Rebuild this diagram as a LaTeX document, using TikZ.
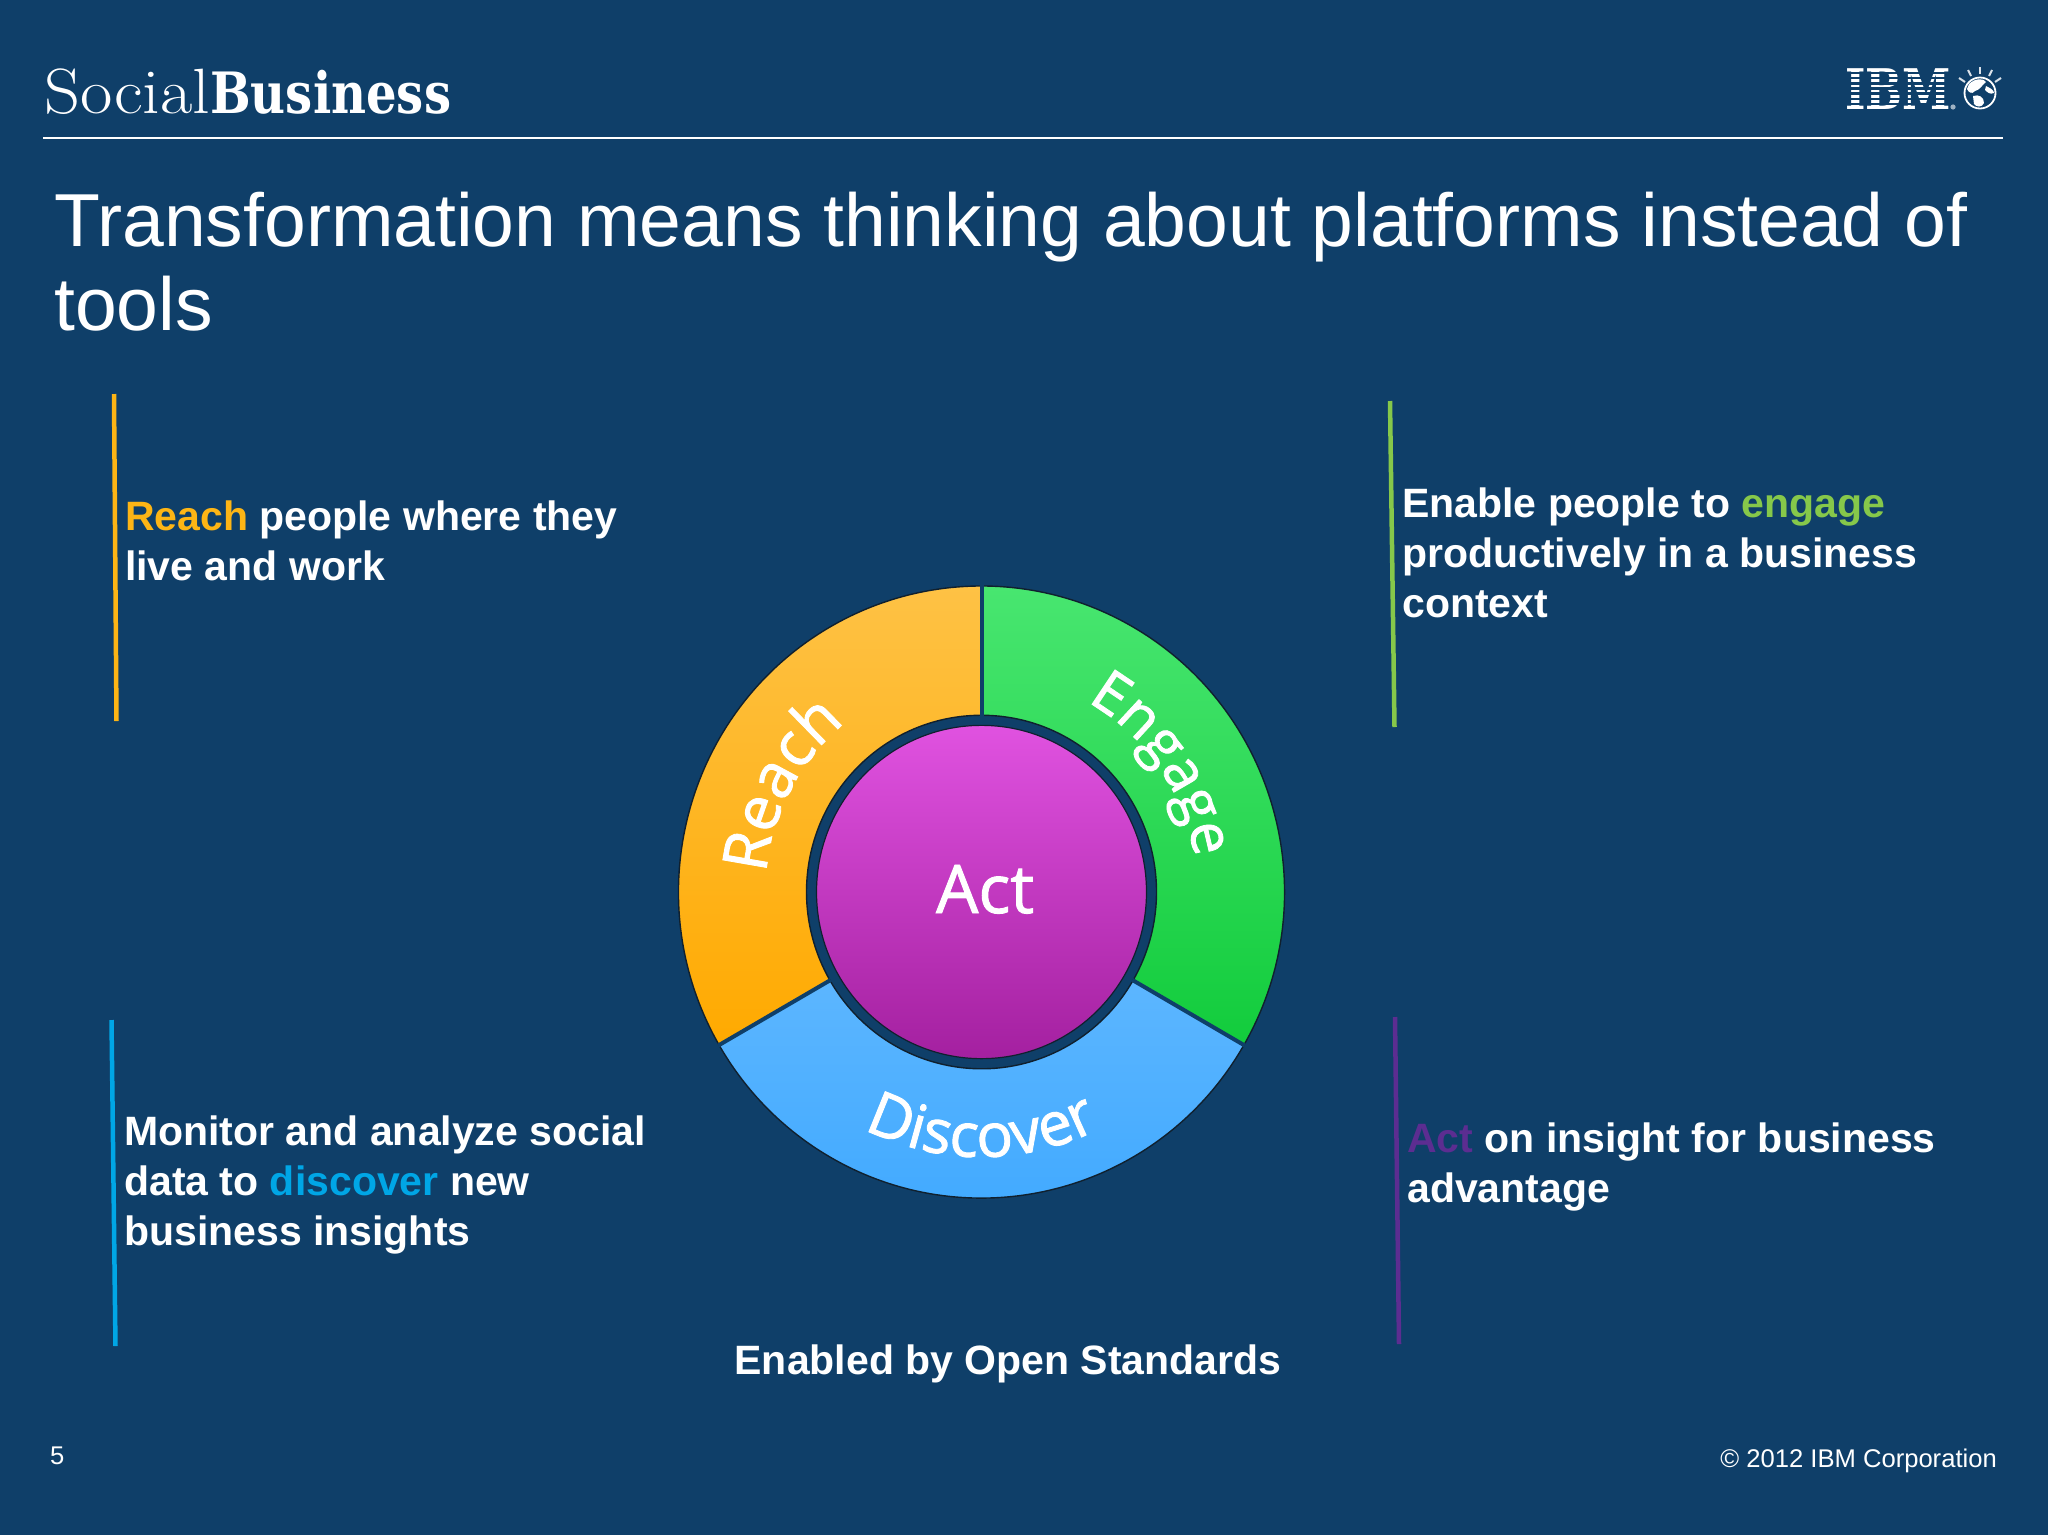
\documentclass[tikz,border=0pt]{standalone}
\usepackage{fontspec}
\usetikzlibrary{decorations.text}
\newfontfamily\bodyfont{Liberation Sans}
\newfontfamily\ringfont[FakeBold=1.4]{Open Sans}
\newfontfamily\slabfont{DejaVu Serif}
\definecolor{bgblue}{HTML}{0F3F69}
\definecolor{reachc}{HTML}{FDB515}
\definecolor{engagec}{HTML}{86C84A}
\definecolor{discoverc}{HTML}{00A6E6}
\definecolor{actc}{HTML}{5C2D91}
\definecolor{ringedge}{HTML}{10202E}
\tikzset{
  bodytext/.style={anchor=base west,align=left,inner sep=0pt,text=white,font=\bodyfont\bfseries\fontsize{41}{49.6}\selectfont},
  smalltext/.style={inner sep=0pt,text=white,font=\bodyfont\fontsize{25.6}{30}\selectfont},
  barline/.style={line width=4.5pt},
  sector/.style={draw=ringedge,line width=1.4pt},
  gapline/.style={draw=bgblue,line width=4pt},
}
\newcommand{\ringword}[6]{%
  \path[postaction={decorate,decoration={text along path,text align=center,text={|\ringfont\fontsize{#1}{#1}\selectfont\color{white}|#2}}}]
    ([shift={(#3:#5pt and #6pt)}]ctr) arc[start angle=#3,end angle=#4,x radius=#5pt,y radius=#6pt];}
\begin{document}
\begin{tikzpicture}[x=1pt,y=1pt]
\useasboundingbox (0,-1535) rectangle (2048,0);
\fill[bgblue] (0,-1535) rectangle (2048,0);
% header
\node[anchor=base west,inner sep=0pt,text=white,xscale=1.1,transform shape,font=\rmfamily\fontsize{64}{64}\selectfont] (social) at (44,-113) {Social};
\node[anchor=base west,inner sep=0pt,text=white,xscale=.845,transform shape,font=\slabfont\bfseries\fontsize{57}{57}\selectfont] (business) at (210,-113) {Business};
\draw[white,line width=1.3pt] (43,-138) -- (2003,-138);
% IBM logo
\node[anchor=base west,inner sep=0pt,text=white,xscale=.78,transform shape,font=\slabfont\bfseries\fontsize{56}{56}\selectfont] (ibm) at (1845,-109) {IBM};
\foreach \k in {1,...,7} \fill[bgblue] (1842,{-68-5.13*\k-1.2}) rectangle (1950,{-68-5.13*\k+1.2});
\fill[white!60!bgblue] (1953,-107) circle (2.6);
\draw[white,line width=1.8pt] (1980,-93) circle (15.5);
\fill[white] (1969,-84) .. controls (1975,-78) and (1984,-78) .. (1986,-82) .. controls (1982,-85) and (1980,-90) .. (1975,-91) .. controls (1972,-95) and (1968,-92) .. (1967,-89) -- cycle;
\fill[white] (1973,-96) .. controls (1979,-94) and (1984,-97) .. (1984,-103) .. controls (1982,-108) and (1976,-107) .. (1974,-104) -- cycle;
\fill[white] (1986,-86) .. controls (1990,-88) and (1994,-90) .. (1994,-93) .. controls (1990,-95) and (1987,-92) .. (1985,-90) -- cycle;
\foreach \a/\xa/\ya/\xb/\yb in {0/1959/-78/1965/-82,1/1968/-70/1971/-76,2/1980/-67/1980/-74,3/1992/-70/1989/-76,4/2001/-78/1995/-82}
  \draw[white!85!bgblue,line width=2pt] (\xa,\ya) -- (\xb,\yb);
% title
\node[anchor=base west,align=left,inner sep=0pt,text=white,font=\bodyfont\fontsize{75.1}{84}\selectfont] (title) at (54,-330) {Transformation means thinking about platforms instead of\\tools};
% bars
\draw[barline,draw=reachc] (114,-394) -- (116.5,-721);
\draw[barline,draw=engagec] (1390,-401) -- (1394.5,-727);
\draw[barline,draw=discoverc] (111.5,-1020) -- (115.5,-1346);
\draw[barline,draw=actc] (1395,-1017) -- (1399,-1344);
% body text
\node[bodytext] (reachtxt) at (125,-580) {\textcolor{reachc}{Reach} people where they\\live and work};
\node[bodytext] (engagetxt) at (1402,-617) {Enable people to \textcolor{engagec}{engage}\\productively in a business\\context};
\node[bodytext] (discovertxt) at (124,-1245) {Monitor and analyze social\\data to \textcolor{discoverc}{discover} new\\business insights};
\node[bodytext] (acttxt) at (1407,-1202) {\textcolor{actc}{Act} on insight for business\\advantage};
\node[bodytext,anchor=base] (open) at (1008,-1374) {Enabled by Open Standards};
\node[smalltext,anchor=base west] (pageno) at (50,-1464) {5};
\node[smalltext,anchor=base east] (copy) at (1997,-1467) {© 2012 IBM Corporation};
% ring
\coordinate (ctr) at (981.5,-892);
\begin{scope}[shift={(981.5,-892)},yscale=1.01]
  \shade[sector,top color=reachc!78!white!95!orange,bottom color=orange!60!yellow!95!red]
    (90:175) arc[start angle=90,end angle=210,radius=175] -- (210:303) arc[start angle=210,end angle=90,radius=303] -- cycle;
  \shade[sector,top color={rgb,255:red,72;green,230;blue,112},bottom color={rgb,255:red,18;green,204;blue,60}]
    (90:175) arc[start angle=90,end angle=-30,radius=175] -- (-30:303) arc[start angle=-30,end angle=90,radius=303] -- cycle;
  \shade[sector,top color={rgb,255:red,92;green,182;blue,255},bottom color={rgb,255:red,62;green,168;blue,255}]
    (210:175) arc[start angle=210,end angle=330,radius=175] -- (330:303) arc[start angle=330,end angle=210,radius=303] -- cycle;
  \draw[gapline] (90:174) -- (90:304);
  \draw[gapline] (210:174) -- (210:304);
  \draw[gapline] (330:174) -- (330:304);
  \shade[draw=ringedge,line width=1.2pt,top color={rgb,255:red,224;green,82;blue,224},bottom color={rgb,255:red,164;green,32;blue,160}] (0,0) circle (165);
\end{scope}
\ringword{62}{Reach}{197}{107}{216}{218}
\ringword{58}{Engage}{80}{-10}{216}{218}
\ringword{61}{Discover}{225}{315}{262}{265}
\node[anchor=base,inner sep=0pt,text=white,font=\ringfont\fontsize{67}{67}\selectfont] (act) at (985,-913) {Act};
\end{tikzpicture}
\end{document}
